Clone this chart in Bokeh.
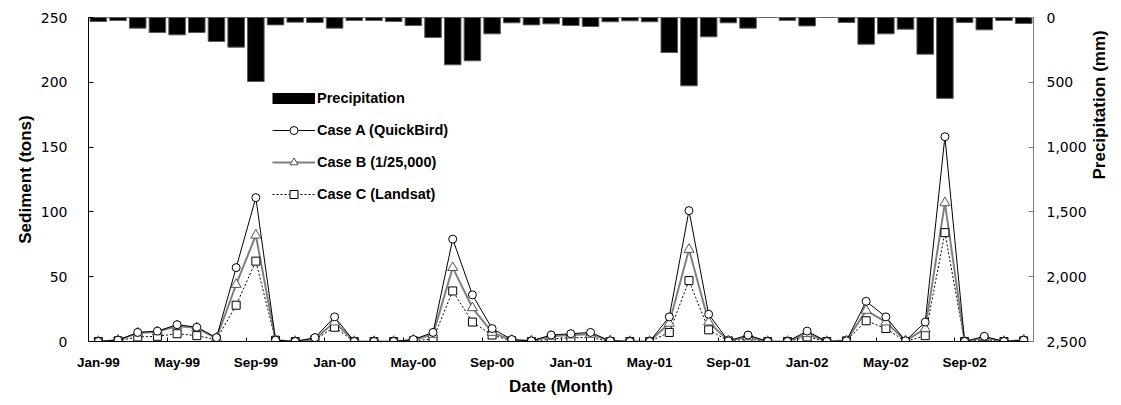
import math
from bokeh.plotting import figure
from bokeh.models import (Range1d, LinearAxis, FixedTicker, NumeralTickFormatter,
                          Legend, LegendItem, ColumnDataSource)
from bokeh.embed import file_html
from bokeh.resources import INLINE

months = ["Jan-99", "Feb-99", "Mar-99", "Apr-99", "May-99", "Jun-99",
          "Jul-99", "Aug-99", "Sep-99", "Oct-99", "Nov-99", "Dec-99",
          "Jan-00", "Feb-00", "Mar-00", "Apr-00", "May-00", "Jun-00",
          "Jul-00", "Aug-00", "Sep-00", "Oct-00", "Nov-00", "Dec-00",
          "Jan-01", "Feb-01", "Mar-01", "Apr-01", "May-01", "Jun-01",
          "Jul-01", "Aug-01", "Sep-01", "Oct-01", "Nov-01", "Dec-01",
          "Jan-02", "Feb-02", "Mar-02", "Apr-02", "May-02", "Jun-02",
          "Jul-02", "Aug-02", "Sep-02", "Oct-02", "Nov-02", "Dec-02"]

# precipitation (mm), right axis (reversed)
precip_mm = [31, 23, 82, 116, 134, 116, 185, 229, 494, 57, 36, 39,
             82, 23, 23, 31, 62, 154, 365, 334, 126, 41, 57, 49,
             62, 69, 33, 26, 33, 270, 527, 149, 41, 82, 0, 22,
             65, 0, 38, 206, 126, 90, 283, 624, 39, 95, 23, 46]

# sediment (tons), left axis
case_a = [0, 1, 7, 8, 13, 11, 3, 57, 111, 1, 0, 3,
          19, 0, 0, 0, 1.5, 7, 79, 36, 10, 1.5, 0.5, 5,
          6, 7, 0.5, 0, 0, 19, 101, 21, 0.5, 5, 0, 0,
          8, 0, 0.5, 31, 19, 0.5, 15, 158, 0, 4, 0, 1]
case_b = [0, 1, 6.5, 7.5, 12, 10.5, 2.5, 44, 82, 1, 0, 2,
          15, 0, 0, 0, 1, 5.5, 57, 26, 7, 1, 0.5, 4,
          5, 5.5, 0.5, 0, 0, 14, 71, 15, 0.5, 3.5, 0, 0,
          6, 0, 0.5, 24, 15, 0.5, 10, 107, 0, 3, 0, 1]
case_c = [0, 0.5, 3.5, 4, 6, 4.5, 1.5, 28, 62, 1, 0, 1.5,
          11, 0, 0, 0, 0.5, 2, 39, 15, 5, 0.5, 0, 2,
          3, 3, 0, 0, 0, 7, 47, 9, 0.5, 2, 0, 0,
          3.5, 0, 0.5, 16, 10, 0, 4.5, 84, 0, 1.5, 0, 0.5]

sediment_ticks = [0, 50, 100, 150, 200, 250]
precip_ticks = [0, 500, 1000, 1500, 2000, 2500]
label_every = 4

x = list(range(len(months)))
src = ColumnDataSource(data=dict(x=x, month=months, precip=precip_mm,
                                 a=case_a, b=case_b, c=case_c))

FRAME_LEFT, FRAME_W, RIGHT_BORDER = 88, 945, 88
p = figure(width=FRAME_LEFT + FRAME_W + RIGHT_BORDER, height=400,
           output_backend="svg", toolbar_location=None,
           x_range=Range1d(-0.5, len(months) - 0.5), y_range=Range1d(0, 250),
           min_border_left=FRAME_LEFT, min_border_right=RIGHT_BORDER,
           min_border_top=17, min_border_bottom=59)
p.extra_y_ranges = {"precip": Range1d(2500, 0)}
p.xgrid.visible = False
p.ygrid.visible = False
p.outline_line_color = "#808080"
p.background_fill_color = "white"
p.border_fill_color = "white"

TICK_FONT = "DejaVu Sans"
BOLD_FONT = "Liberation Sans"

# x axis
xa = p.xaxis[0]
major = list(range(0, len(months), label_every))
minor = [i - 0.5 for i in range(label_every, len(months), label_every)]
xa.ticker = FixedTicker(ticks=major, minor_ticks=minor)
xa.major_label_overrides = {i: months[i] for i in major}
xa.major_tick_line_color = None
xa.minor_tick_in = 4
xa.minor_tick_out = 0
xa.minor_tick_line_color = "black"
xa.axis_line_color = "black"
xa.major_label_text_font = BOLD_FONT
xa.major_label_text_font_style = "bold"
xa.major_label_text_font_size = "13.5px"
xa.major_label_text_color = "black"
xa.major_label_standoff = 7
xa.axis_label = "Date (Month)"
xa.axis_label_text_font = BOLD_FONT
xa.axis_label_text_font_style = "bold"
xa.axis_label_text_font_size = "17px"
xa.axis_label_text_color = "black"
xa.axis_label_standoff = 4

# left axis
ya = p.yaxis[0]
ya.ticker = FixedTicker(ticks=sediment_ticks)
ya.major_tick_in = 5
ya.major_tick_out = 0
ya.minor_tick_line_color = None
ya.axis_line_color = "black"
ya.major_label_text_font = TICK_FONT
ya.major_label_text_font_size = "14px"
ya.major_label_text_color = "black"
ya.major_label_standoff = 21
ya.axis_label = "Sediment (tons)"
ya.axis_label_text_font = BOLD_FONT
ya.axis_label_text_font_style = "bold"
ya.axis_label_text_font_size = "17px"
ya.axis_label_text_color = "black"
ya.axis_label_standoff = 3

# right axis (precipitation, reversed)
ra = LinearAxis(y_range_name="precip", ticker=FixedTicker(ticks=precip_ticks),
                formatter=NumeralTickFormatter(format="0,0"))
ra.major_tick_in = 5
ra.major_tick_out = 0
ra.minor_tick_line_color = None
ra.axis_line_color = "#808080"
ra.major_tick_line_color = "#808080"
ra.major_label_text_font = TICK_FONT
ra.major_label_text_font_size = "14px"
ra.major_label_text_color = "black"
ra.major_label_standoff = 13
ra.axis_label = "Precipitation (mm)"
ra.axis_label_text_font = BOLD_FONT
ra.axis_label_text_font_style = "bold"
ra.axis_label_text_font_size = "17px"
ra.axis_label_text_color = "black"
ra.axis_label_orientation = math.pi / 2
ra.axis_label_text_baseline = "top"
ra.axis_label_text_align = "center"
ra.axis_label_standoff = 10
p.add_layout(ra, "right")

# precipitation bars hanging from the top
p.vbar(x="x", top="precip", bottom=0, width=0.84, source=src, y_range_name="precip",
       fill_color="black", line_color="#595959", line_width=1)

# sediment series
lc = p.line("x", "c", source=src, line_color="black", line_width=1, line_dash="2 2")
lb = p.line("x", "b", source=src, line_color="#808080", line_width=2)
la = p.line("x", "a", source=src, line_color="black", line_width=1)
sc = p.scatter("x", "c", source=src, marker="square", size=8,
               fill_color="white", line_color="black")
sb = p.scatter("x", "b", source=src, marker="triangle", size=10,
               fill_color="white", line_color="#555555")
sa = p.scatter("x", "a", source=src, marker="circle", size=8,
               fill_color="white", line_color="black")

# legend swatch for precipitation (invisible in the plot: single NaN point)
swatch_src = ColumnDataSource(data=dict(x=[0.0], y=[float("nan")]))
bar_swatch = p.line("x", "y", source=swatch_src, line_color="black",
                    line_width=11, line_cap="butt")

legend = Legend(items=[
    LegendItem(label="Precipitation", renderers=[bar_swatch]),
    LegendItem(label="Case A (QuickBird)", renderers=[la, sa]),
    LegendItem(label="Case B (1/25,000)", renderers=[lb, sb]),
    LegendItem(label="Case C (Landsat)", renderers=[lc, sc]),
], location=(184, 137), orientation="vertical", glyph_width=43, glyph_height=20,
    label_height=20, spacing=12, padding=0, margin=0, label_standoff=2,
    border_line_color=None, background_fill_alpha=0,
    label_text_font=BOLD_FONT, label_text_font_style="bold",
    label_text_font_size="14.5px", label_text_color="black")
p.add_layout(legend)

open("out.html", "w").write(file_html(p, INLINE))
